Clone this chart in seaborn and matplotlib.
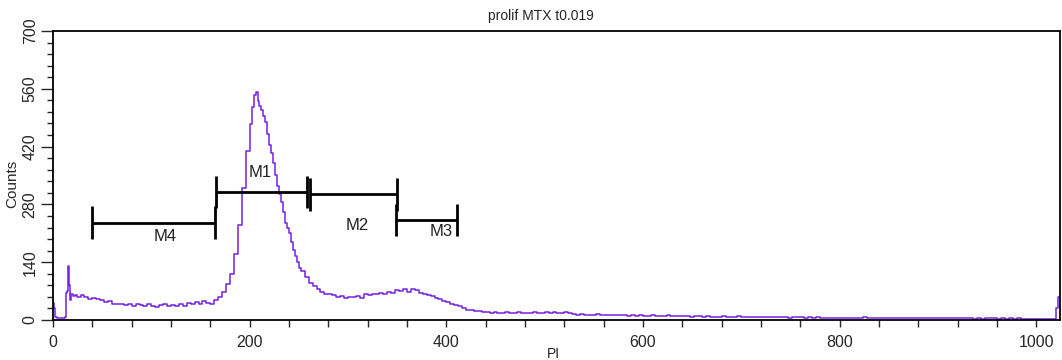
import matplotlib
matplotlib.use("Agg")
import matplotlib.pyplot as plt
import seaborn as sns
import pandas as pd
from matplotlib.ticker import MultipleLocator

# Histogram channels (PI fluorescence) and event counts per channel
channel = [0, 1, 2, 4, 6, 8, 10, 12, 13, 14, 15, 16, 17, 18, 20, 22,
           24, 28, 32, 36, 40, 44, 48, 52, 56, 60, 64, 68, 72, 76, 80, 84, 88, 92, 96,
           100, 104, 108, 112, 116, 120, 124, 128, 132, 136, 140, 144, 148, 152, 156,
           160, 164, 168, 172, 176, 180, 184, 188, 192, 196,
           200, 202, 204, 206, 208, 210, 212, 214, 216, 218, 220, 222, 224, 226, 228,
           230, 232, 234, 236, 238, 240, 242, 244, 246, 248, 250,
           252, 256, 260, 264, 268, 272, 276, 280, 284, 288, 292, 296,
           300, 304, 308, 312, 316, 320, 324, 328, 332, 336, 340, 344, 348, 352, 356,
           360, 364, 368, 372, 376, 380, 384, 388, 392, 396,
           400, 404, 408, 412, 416, 420, 424, 428, 432, 436, 440, 444, 448, 452, 456,
           460, 464, 468, 472, 476, 480, 484, 488, 492, 496,
           500, 504, 508, 512, 516, 520, 524, 528, 532, 536, 540, 544, 548, 552, 556,
           560, 564, 568, 572, 576, 580, 584, 588, 592, 596,
           600, 604, 608, 612, 616, 620, 624, 628, 632, 636, 640, 644, 648, 652, 656,
           660, 664, 668, 672, 676, 680, 684, 688, 692, 696,
           700, 704, 708, 712, 716, 720, 724, 728, 732, 736, 740, 744, 748, 752, 756,
           760, 764, 768, 772, 776, 780, 784, 788, 792, 796,
           800, 804, 808, 812, 816, 820, 824, 828, 832, 836, 840, 844, 848, 852, 856,
           860, 864, 868, 872, 876, 880, 884, 888, 892, 896,
           900, 904, 908, 912, 916, 920, 924, 928, 932, 936, 940, 944, 948, 952, 956,
           960, 964, 968, 972, 976, 980, 984, 988, 992, 996,
           1000, 1004, 1008, 1012, 1016, 1020, 1022, 1023]
counts = [42, 30, 8, 6, 5, 5, 6, 8, 66, 70, 130, 85, 48, 62, 58, 60,
          56, 60, 55, 52, 54, 50, 48, 44, 46, 40, 38, 40, 36, 40, 34, 38, 36, 33, 38,
          35, 32, 36, 40, 34, 36, 33, 38, 35, 42, 38, 44, 40, 46, 42,
          38, 48, 55, 68, 88, 112, 160, 230, 320, 410,
          475, 515, 545, 552, 530, 518, 508, 495, 480, 450, 425, 405, 380, 352, 325,
          305, 285, 262, 235, 222, 210, 190, 170, 155, 140, 125,
          118, 105, 90, 82, 76, 68, 64, 62, 60, 57, 58, 54,
          56, 55, 58, 54, 62, 60, 64, 62, 66, 63, 68, 66, 72, 70, 76,
          68, 74, 72, 66, 64, 60, 58, 53, 50, 46,
          44, 40, 36, 33, 28, 25, 24, 21, 22, 19, 20, 18, 19, 17, 18,
          20, 17, 18, 19, 17, 18, 16, 19, 18, 17,
          19, 18, 20, 17, 18, 19, 16, 14, 13, 14, 12, 13, 12, 14, 13,
          12, 11, 13, 12, 11, 12, 10, 11, 10, 11,
          10, 9, 11, 10, 9, 10, 11, 9, 10, 9, 10, 9, 8, 9, 10,
          8, 9, 8, 7, 8, 9, 8, 7, 8, 9,
          8, 7, 8, 7, 8, 7, 8, 7, 8, 7, 8, 7, 6, 7, 8,
          7, 6, 7, 6, 7, 6, 5, 6, 5, 6,
          5, 6, 5, 6, 5, 6, 7, 6, 5, 6, 5, 6, 5, 6, 5,
          6, 5, 6, 5, 4, 5, 4, 5, 4, 5,
          4, 5, 4, 5, 4, 5, 4, 5, 4, 3, 4, 3, 4, 5, 4,
          3, 4, 3, 4, 3, 4, 3, 2, 3, 2,
          3, 2, 3, 2, 2, 28, 55, 55]

# Gate markers: name, start/end channel, drawn level, label position
marker_names = ["M1", "M2", "M3", "M4"]
marker_start = [166, 261, 349, 40]
marker_end = [258, 350, 411, 165]
marker_level = [311, 304, 243, 236]
label_x = [211, 309, 395, 114]
label_y = [357, 228, 214, 202]

x_ticks = [0, 200, 400, 600, 800, 1000]
y_ticks = [0, 140, 280, 420, 560, 700]

sns.set_style("ticks")
plt.rcParams["font.family"] = ["Liberation Sans", "DejaVu Sans"]

fig = plt.figure(figsize=(10.62, 3.6), dpi=100)
ax = fig.add_axes([0.0499, 0.111, 0.9481, 0.803])

df = pd.DataFrame({"PI": channel, "Counts": counts})
sns.lineplot(data=df, x="PI", y="Counts", ax=ax, estimator=None, sort=True,
             drawstyle="steps-post", color="#7420e0", linewidth=1.1)

# Gate brackets
cap = 39
for name, s, e, lv, lx, ly in zip(marker_names, marker_start, marker_end,
                                  marker_level, label_x, label_y):
    ax.hlines(lv, s, e, colors="black", linewidth=2.0)
    ax.vlines([s, e], lv - cap, lv + cap, colors="black", linewidth=2.0)
    ax.text(lx, ly, name, ha="center", va="center", fontsize=12, color="#222222")

ax.set_xlim(0, 1024)
ax.set_ylim(0, 700)
ax.set_xticks(x_ticks)
ax.set_yticks(y_ticks)
ax.xaxis.set_minor_locator(MultipleLocator(40))
ax.yaxis.set_minor_locator(MultipleLocator(28))
ax.tick_params(axis="x", which="both", direction="out", length=5, width=1,
               labelsize=11.5, pad=6)
ax.tick_params(axis="y", which="major", direction="out", length=9, width=1,
               labelsize=11.5, pad=2, labelrotation=90)
ax.tick_params(axis="y", which="minor", direction="out", length=4, width=1)
for lab in ax.get_yticklabels():
    lab.set_va("center")

for side in ["left", "right", "bottom", "top"]:
    ax.spines[side].set_visible(True)
    ax.spines[side].set_color("black")
    ax.spines[side].set_linewidth(1.3)

ax.set_xlabel("")
ax.set_ylabel("")
fig.text(0.012, 0.49, "Counts", rotation=90, ha="center", va="center", fontsize=11)
fig.text(0.521, 0.018, "PI", ha="center", va="center", fontsize=10)
fig.text(0.509, 0.955, "prolif MTX t0.019", ha="center", va="center", fontsize=10)

fig.savefig("out.png", dpi=100)
